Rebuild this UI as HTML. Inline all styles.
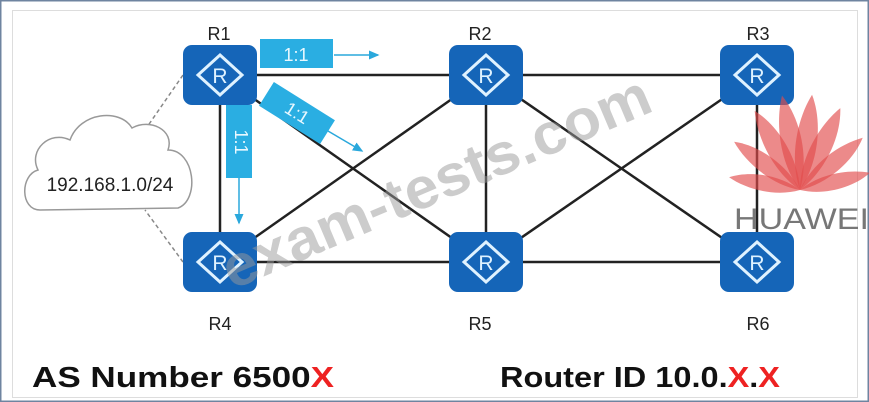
<!DOCTYPE html>
<html><head><style>
html,body{margin:0;padding:0;background:#fff;}
body{width:869px;height:402px;overflow:hidden;position:relative;font-family:"Liberation Sans",sans-serif;}
</style></head><body>
<svg width="869" height="402" viewBox="0 0 869 402" xmlns="http://www.w3.org/2000/svg" style="position:absolute;left:0;top:0">
<defs>
<marker id="ar" markerWidth="8" markerHeight="8" refX="6" refY="3" orient="auto"><path d="M0,0 L7,3 L0,6 Z" fill="#2aa8dc"/></marker>
<g id="rt">
<rect x="-37" y="-30" width="74" height="60" rx="9" fill="#1565b8"/>
<path d="M0,-20 L22,0 L0,20 L-22,0 Z" fill="none" stroke="#dff2ff" stroke-width="3"/>
<text x="0" y="8" font-size="21" fill="#dff2ff" text-anchor="middle" font-family="Liberation Sans">R</text>
</g>
<path id="pt" d="M0,0 C-16,-30 -14,-70 -3,-96 C12,-70 14,-30 0,0Z"/>
</defs>
<rect x="0.5" y="0.5" width="868" height="401" fill="#fff" stroke="#6f84a0" stroke-width="2"/>
<rect x="12.5" y="10.5" width="845" height="387" fill="none" stroke="#ddd" stroke-width="1"/>
<g stroke="#222" stroke-width="2.5">
<line x1="220" y1="75" x2="757" y2="75"/>
<line x1="220" y1="262" x2="757" y2="262"/>
<line x1="220" y1="75" x2="220" y2="262"/>
<line x1="486" y1="75" x2="486" y2="262"/>
<line x1="757" y1="75" x2="757" y2="262"/>
<line x1="220" y1="75" x2="486" y2="262"/>
<line x1="220" y1="262" x2="486" y2="75"/>
<line x1="486" y1="75" x2="757" y2="262"/>
<line x1="486" y1="262" x2="757" y2="75"/>
</g>
<g stroke="#888" stroke-width="1.5" stroke-dasharray="4,3">
<line x1="183" y1="75" x2="145" y2="130"/>
<line x1="183" y1="262" x2="145" y2="210"/>
</g>
<path d="M40,210 C20,210 20,175 38,170 C28,150 50,130 70,140 C80,112 120,108 132,128 C150,118 175,130 168,150 C195,150 200,200 178,208 Z" fill="#fff" stroke="#999" stroke-width="1.5"/>
<text x="110" y="191" font-size="19" fill="#222" text-anchor="middle">192.168.1.0/24</text>
<use href="#rt" x="220" y="75"/><use href="#rt" x="486" y="75"/><use href="#rt" x="757" y="75"/>
<use href="#rt" x="220" y="262"/><use href="#rt" x="486" y="262"/><use href="#rt" x="757" y="262"/>
<g font-size="18" fill="#222" text-anchor="middle">
<text x="219" y="40">R1</text><text x="480" y="40">R2</text><text x="758" y="40">R3</text>
<text x="220" y="330">R4</text><text x="480" y="330">R5</text><text x="758" y="330">R6</text>
</g>
<rect x="260" y="39" width="73" height="29" fill="#2aaee2"/>
<text x="296" y="61" font-size="18" fill="#e8f8ff" text-anchor="middle">1:1</text>
<line x1="334" y1="55" x2="378" y2="55" stroke="#2aa8dc" stroke-width="1.5" marker-end="url(#ar)"/>
<g transform="translate(297,113) rotate(32)">
<rect x="-36" y="-14" width="72" height="28" fill="#2aaee2"/>
<text x="0" y="6" font-size="18" fill="#e8f8ff" text-anchor="middle">1:1</text>
</g>
<line x1="328" y1="131" x2="362" y2="151" stroke="#2aa8dc" stroke-width="1.5" marker-end="url(#ar)"/>
<rect x="226" y="105" width="26" height="73" fill="#2aaee2"/>
<text transform="translate(235,142) rotate(90)" font-size="18" fill="#e8f8ff" text-anchor="middle">1:1</text>
<line x1="239" y1="178" x2="239" y2="223" stroke="#2aa8dc" stroke-width="1.5" marker-end="url(#ar)"/>
<text transform="translate(232,290) rotate(-23)" font-size="58" font-weight="bold" fill="#9a9a9a" fill-opacity="0.5" textLength="460" lengthAdjust="spacingAndGlyphs">exam-tests.com</text>
<g fill="#e24b4b" fill-opacity="0.65" transform="translate(800,190)">
<use href="#pt" transform="rotate(-9)"/>
<use href="#pt" transform="rotate(9)"/>
<use href="#pt" transform="rotate(-28) scale(0.95)"/>
<use href="#pt" transform="rotate(28) scale(0.95)"/>
<use href="#pt" transform="rotate(-52) scale(0.85)"/>
<use href="#pt" transform="rotate(52) scale(0.85)"/>
<use href="#pt" transform="rotate(-78) scale(0.75)"/>
<use href="#pt" transform="rotate(78) scale(0.75)"/>
</g>
<text x="734" y="229" font-size="30" fill="#777" textLength="135" lengthAdjust="spacingAndGlyphs">HUAWEI</text>
<text x="32" y="387" font-size="29" font-weight="bold" fill="#111" textLength="302" lengthAdjust="spacingAndGlyphs">AS Number 6500<tspan fill="#e22">X</tspan></text>
<text x="500" y="387" font-size="29" font-weight="bold" fill="#111" textLength="280" lengthAdjust="spacingAndGlyphs">Router ID 10.0.<tspan fill="#e22">X</tspan>.<tspan fill="#e22">X</tspan></text>
</svg>
</body></html>
